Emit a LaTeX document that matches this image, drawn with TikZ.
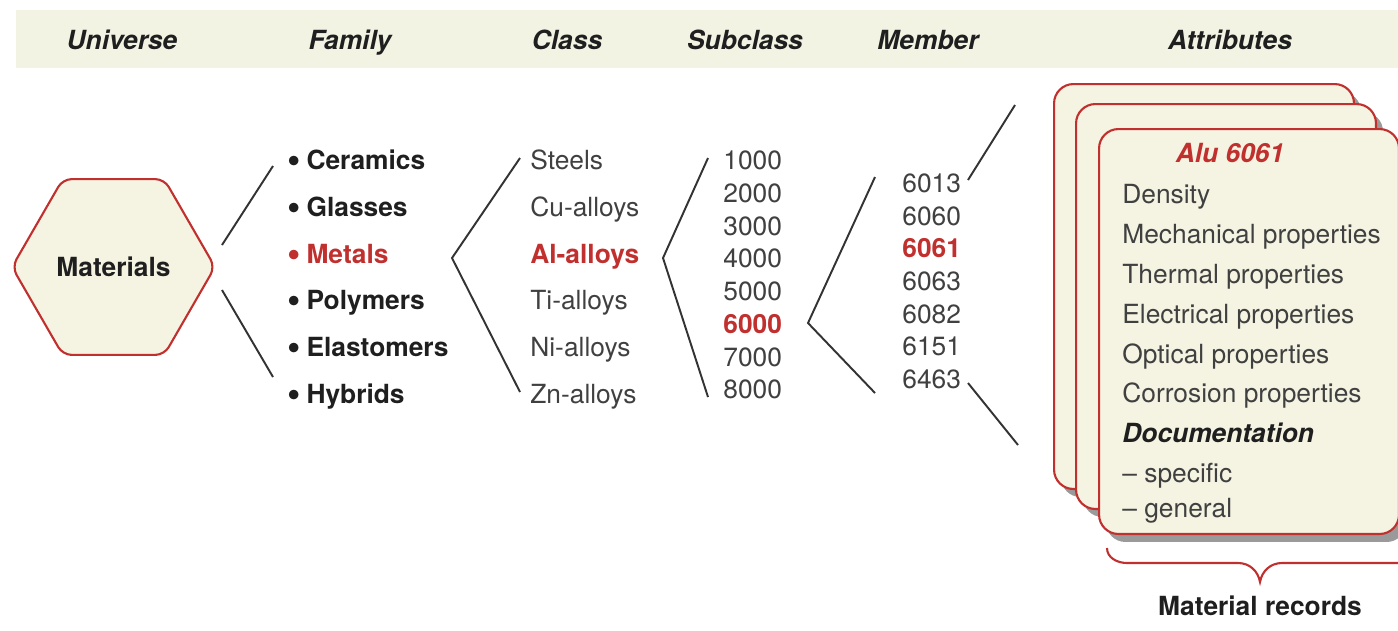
\documentclass[tikz,border=0pt]{standalone}
\usepackage{fontspec}
\setmainfont{TeX Gyre Heros}
\usepackage{tikz}
\usetikzlibrary{shapes.geometric,shadows}
\definecolor{recred}{HTML}{C0302E}
\definecolor{paper}{HTML}{F5F3E1}
\definecolor{band}{HTML}{F3F3E3}
\definecolor{ink}{HTML}{404040}
\definecolor{shade}{HTML}{9A9A9A}
\newcommand{\famdot}{\raisebox{-0.12em}{\scalebox{1.45}{\textbullet}}\hspace{0.22em}}

\begin{document}
\begin{tikzpicture}[x=0.02cm, y=-0.02cm,
    every node/.style={font=\fontsize{15}{18}\selectfont, inner sep=0pt},
    head/.style={font=\fontsize{15}{18}\selectfont\bfseries\itshape,
        text=black!88, anchor=base},
    fam/.style={font=\fontsize{15}{18}\selectfont\bfseries,
        text=black!88, anchor=base west},
    item/.style={text=ink, anchor=base west},
    pick/.style={font=\fontsize{15}{18}\selectfont\bfseries,
        text=recred, anchor=base west},
    branch/.style={draw=black!80, line width=1.1pt},
    hexa/.style={regular polygon, regular polygon sides=6,
        minimum size=4.06cm, draw=recred, fill=paper,
        line width=1.2pt, rounded corners=5pt},
    card/.style={draw=recred, fill=paper, line width=1.2pt,
        rounded corners=11pt, minimum width=6cm, minimum height=8.1cm,
        anchor=north west,
        drop shadow={shadow xshift=0.14cm, shadow yshift=-0.16cm,
            fill=shade, opacity=1}},
    prop/.style={text=ink, anchor=base west}
]
\useasboundingbox (0,0) rectangle (1398,630);
\fill[band] (16,10) rectangle (1398,68);
\node[head] (h-univ)  at (122,49)  {Universe};
\node[head] (h-fam)   at (350,49)  {Family};
\node[head] (h-class) at (567,49)  {Class};
\node[head] (h-sub)   at (745,49)  {Subclass};
\node[head] (h-mem)   at (928,49)  {Member};
\node[head] (h-att)   at (1230,49) {Attributes};

\node[hexa] (univ) at (113.5,267)
    {\bfseries\color{black!88}Materials};

\node[fam]  (ceram) at (287,169) {\famdot Ceramics};
\node[fam]  (glass) at (287,216) {\famdot Glasses};
\node[pick] (metal) at (287,263) {\famdot Metals};
\node[fam]  (poly)  at (287,309) {\famdot Polymers};
\node[fam]  (elast) at (287,356) {\famdot Elastomers};
\node[fam]  (hybr)  at (287,403) {\famdot Hybrids};

\node[item] (steel) at (530,169) {Steels};
\node[item] (cu)    at (530,216) {Cu-alloys};
\node[pick] (al)    at (530,263) {Al-alloys};
\node[item] (ti)    at (530,309) {Ti-alloys};
\node[item] (ni)    at (530,356) {Ni-alloys};
\node[item] (zn)    at (530,403) {Zn-alloys};

\node[item] (s1000) at (723,169) {1000};
\node[item] (s2000) at (723,202) {2000};
\node[item] (s3000) at (723,235) {3000};
\node[item] (s4000) at (723,267) {4000};
\node[item] (s5000) at (723,300) {5000};
\node[pick] (s6000) at (723,333) {6000};
\node[item] (s7000) at (723,366) {7000};
\node[item] (s8000) at (723,398) {8000};

\node[item] (m6013) at (902,192) {6013};
\node[item] (m6060) at (902,225) {6060};
\node[pick] (m6061) at (902,257) {6061};
\node[item] (m6063) at (902,290) {6063};
\node[item] (m6082) at (902,323) {6082};
\node[item] (m6151) at (902,355) {6151};
\node[item] (m6463) at (902,388) {6463};

\coordinate (fam-a)  at (222,245);
\coordinate (fam-b)  at (273,166);
\coordinate (fam-c)  at (222,290);
\coordinate (fam-d)  at (273,377);
\coordinate (cls-top) at (520,158);
\coordinate (cls-tip) at (452,258);
\coordinate (cls-bot) at (520,392);
\coordinate (sub-top) at (708,158);
\coordinate (sub-tip) at (663,258);
\coordinate (sub-bot) at (708,397);
\coordinate (mem-top) at (875,177);
\coordinate (mem-tip) at (808,323);
\coordinate (mem-bot) at (875,393);
\coordinate (att-a) at (968,180);
\coordinate (att-b) at (1015,105);
\coordinate (att-c) at (968,383);
\coordinate (att-d) at (1018,445);

\draw[branch] (fam-a) -- (fam-b);
\draw[branch] (fam-c) -- (fam-d);
\draw[branch] (cls-top) -- (cls-tip) -- (cls-bot);
\draw[branch] (sub-top) -- (sub-tip) -- (sub-bot);
\draw[branch] (mem-top) -- (mem-tip) -- (mem-bot);
\draw[branch] (att-a) -- (att-b);
\draw[branch] (att-c) -- (att-d);

\node[card] (rec3) at (1053,83)  {};
\node[card] (rec2) at (1075,103) {};
\node[card] (rec1) at (1098,128) {};

\node[font=\fontsize{15}{18}\selectfont\bfseries\itshape,
    text=recred, anchor=base] (alu) at (1230,162) {Alu 6061};
\node[prop] (p-dens) at (1122,203) {Density};
\node[prop] (p-mech) at (1122,243) {Mechanical properties};
\node[prop] (p-ther) at (1122,283) {Thermal properties};
\node[prop] (p-elec) at (1122,323) {Electrical properties};
\node[prop] (p-opt)  at (1122,363) {Optical properties};
\node[prop] (p-corr) at (1122,402) {Corrosion properties};
\node[prop, font=\fontsize{15}{18}\selectfont\bfseries\itshape,
    text=black!88] (p-doc) at (1122,442) {Documentation};
\node[prop] (p-spec) at (1122,482) {-- specific};
\node[prop] (p-gen)  at (1122,517) {-- general};

\coordinate (br-l)   at (1107,548);
\coordinate (br-tip) at (1260,582);
\coordinate (br-r)   at (1398,563);
\draw[recred, line width=1.2pt] (br-l) to[out=-90, in=180] (1127,563)
    -- (1238,563) to[out=0, in=100] (br-tip)
    to[out=80, in=180] (1282,563) -- (br-r);
\node[font=\fontsize{15}{18}\selectfont\bfseries, text=black!88,
    anchor=base] (recs) at (1260,615) {Material records};
\end{tikzpicture}
\end{document}
